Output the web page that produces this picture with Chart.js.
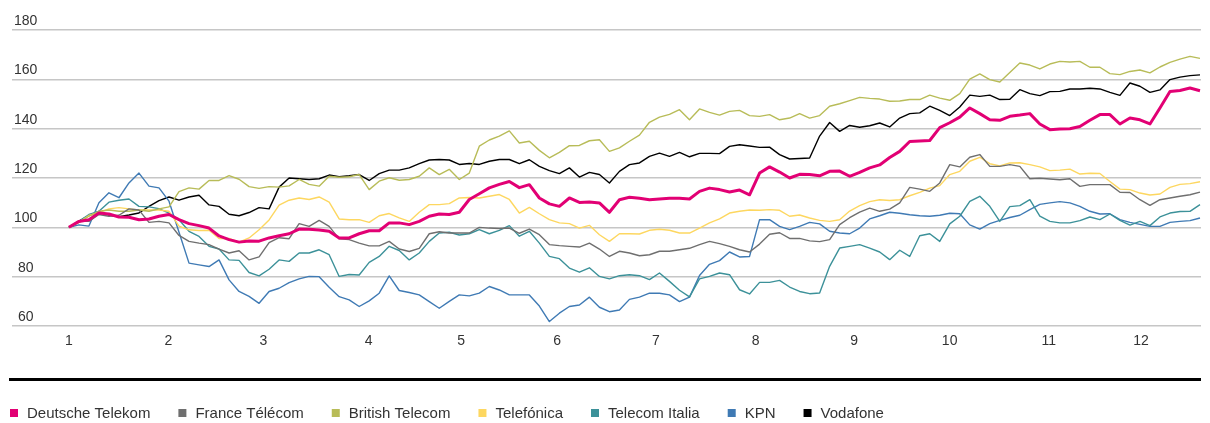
<!DOCTYPE html>
<html><head><meta charset="utf-8">
<script src="https://cdn.jsdelivr.net/npm/chart.js@4.4.1/dist/chart.umd.min.js"></script>
<style>html,body{margin:0;padding:0;background:#fff;}#wrap{width:1210px;height:423px;}</style>
</head><body><div id="wrap"><canvas id="c" width="1210" height="423"></canvas></div>
<script>
// ---- DATA ----
const monthLabels = ['1','2','3','4','5','6','7','8','9','10','11','12'];
const monthTickIndex = [0, 9.94, 19.42, 29.95, 39.19, 48.77, 58.64, 68.61, 78.44, 87.99, 97.89, 107.11];
const yTicks = [60, 80, 100, 120, 140, 160, 180];
const seriesNames = ['Deutsche Telekom','France Télécom','British Telecom','Telefónica','Telecom Italia','KPN','Vodafone'];

const deutscheTelekom = [
100,102.4,103.1,105.8,105.4,104.2,104.1,103.1,103.4,104.5,
105.2,103.1,101.5,100.7,99.7,96.5,95,94,94.5,94.4,
95.7,96.6,97.4,99.3,99.2,98.9,98.4,95.7,95.7,97.4,
98.6,98.6,101.8,101.8,101.1,102.4,104.5,105.4,105.2,106.1,
111.3,113.6,116,117.4,118.6,116.1,117.3,111.9,109.5,108.5,
111.9,110.1,110.3,109.9,106.1,111.2,112.2,111.8,111.2,111.5,
111.8,111.8,111.5,114.6,115.9,115.3,114.3,115.1,113.2,122,
124.5,122.4,120,121.5,121.4,120.9,122.7,122.8,120.7,122.3,
124.1,125.3,128.3,130.8,134.8,135,135.2,140.4,142.4,144.7,
148.4,146.1,143.6,143.4,145,145.5,146.1,141.9,139.6,139.9,
140,140.9,143.4,145.7,145.7,141.9,144.3,143.6,141.9,148.4,
155.1,155.5,156.5,155.4];

const franceTelecom = [
100,102.5,102.4,105.2,104.5,104.9,107.5,107,102,102.4,
101.8,96.7,94.3,93.6,93,91.2,89.6,90.5,86.8,88,
93.8,95.8,95.4,101.5,100.4,102.8,100.4,95.3,95,93.6,
92.5,92.5,94.3,91.2,90.2,91.5,97.4,98.2,97.7,97.7,
97.7,100,99.7,99.5,99.7,97.6,99.3,97,93,92.6,
92.3,92,93.6,91.2,88.2,90.3,89.6,88.5,88.9,90.3,
90.3,90.9,91.5,93,94.3,93.4,92.3,90.9,90,93.2,
97.2,97.8,95.5,95.5,94.5,94.2,95,101.1,103.9,106.2,
107.8,106.5,107.4,109.9,116.2,115.5,114.6,118,125.4,124.5,
128.4,129.5,124.7,124.7,125.4,124.7,119.7,119.9,119.6,119.3,
119.7,116.6,117.3,117.3,117.3,114.2,114.1,111.2,108.9,111.2,
111.9,112.6,113.2,114.3];

const britishTelecom = [
100,102,104.5,106.5,107,106.5,106.5,107,106.5,107.5,
108.3,114.5,116,115.5,119,119,121,119.5,116.5,115.8,
116.5,116.3,116.8,119.4,117.4,116.7,120.7,120.3,120.5,121.4,
115.3,118.7,120.1,119.1,119.4,120.7,124.1,121.4,123.5,119.4,
122,132.9,135.4,137,139.1,134.2,134.9,131.2,128.2,130.4,
133.1,133.2,135.1,135.5,130.8,132.2,134.9,137.4,142.6,144.7,
145.8,147.7,143.6,148,146.6,145.5,147,147.4,145.3,145,
145.7,143.6,144.3,146.1,144.3,145.3,149.1,150.1,151.4,152.7,
152.3,152,151.1,151.2,151.8,151.8,153.6,152.4,151.5,154.2,
160.1,162.2,159.9,158.9,162.8,166.6,165.8,164.2,166.2,167.3,
167,167.3,164.9,164.9,162.3,161.9,163.2,163.8,162.6,165,
166.9,168.2,169.3,168.5];

const telefonica = [
100,102,104.8,106,107.5,108,107.5,107,107,107,
106.5,100.5,99,98.7,98.8,95.5,95.5,94,95.7,99,
103,109,111,111.9,111.3,112.3,110.2,103.4,103.1,103.1,
102,104.7,105.6,103.8,102.4,106.1,109.2,109.2,109.6,111.9,
112.1,111.9,112.6,113.3,111.3,105.8,108.1,105.5,103.1,101.8,
101.5,99.7,100.8,97,94.3,97.4,97.4,97.3,98.8,99.2,
98.8,97.7,97.7,99.7,101.8,103.4,105.8,106.5,107,106.9,
107.2,106.9,104.5,105,103.8,102.8,102.4,103.1,106.6,108.8,
110.4,111.2,110.9,111.2,112.8,114.2,115.9,116.9,121.4,122.7,
126.8,128.4,125.8,124.9,126.1,126.2,125.4,124.5,123,123.2,
123.6,121.6,121.9,121.8,118.6,115.5,115.3,113.9,113.1,113.5,
116.2,117.4,117.7,118.5];

const telecomItalia = [
100,102.4,105.2,106.5,110.2,111,111.5,108.5,108.3,107.6,
105.8,103.1,98.4,96.3,92.3,91.2,86.8,86.6,81.7,80.3,
83,86.8,86.2,89.6,89.6,90.9,88.9,80.1,80.9,80.7,
85.8,88.2,92.3,90.6,86.8,89.6,94.3,97.7,98,96.9,
97.4,99.1,97.4,98.8,100.7,96.4,98.4,93.6,88.2,87.3,
83.5,81.8,83.6,80.1,79.1,80.4,80.8,80.4,78.8,81.5,
78.1,74.5,71.8,79.1,80.1,81.5,80.8,74.7,73,77.7,
77.7,78.5,75.8,74,73.1,73.4,84.2,91.6,92.3,93,
91.6,90,86.9,90.7,88.2,96.6,97.4,94.3,101.4,104.5,
110.5,112.6,108.5,102.4,108.4,108.8,111.2,104.5,102.4,101.8,
101.8,102.7,104.2,103.1,105.4,102.8,100.9,102.4,100.7,104.2,
105.8,106.4,106.5,109.2];

const kpn = [
100,101,100.5,110,114,112,118,122,116.7,116,
110.6,98,85.5,84.8,84.1,86.8,78.7,74,72,69.2,
74,75.3,77.6,79.1,80.1,80,75.7,71.9,70.6,67.9,
70.2,73.3,80.3,74.4,73.6,72.6,69.9,67.2,70,72.6,
72.2,73.3,76,74.6,72.6,72.6,72.6,68.1,61.8,65.2,
67.9,68.5,71.7,67.6,65.8,66.5,70.8,71.7,73.3,73.3,
72.6,69.9,71.7,80.5,85,86.5,90,88,88.2,103.1,
103.1,100.4,99.1,100.4,102,101.4,98.4,97.7,97.4,99.7,
103.4,104.7,106.1,105.7,105.1,104.7,104.5,104.9,105.7,105.5,
101,99.3,101.5,102.8,104,104.9,107.2,109.3,109.9,110.4,
109.9,108.5,106.5,105.4,105.5,103.1,102,101.2,100.4,100.4,
102,102.4,102.7,103.8];

const vodafone = [
100,102.5,104.8,106.5,105,104.3,105,105.8,108.5,110.8,
112.3,111,112.3,113,109.1,108.5,105.3,104.7,106,108,
107.5,116.3,120,119.7,119.4,119.7,121.2,120.5,120.9,121.4,
119,121.8,123.2,123.2,124.1,125.8,127.3,127.5,127.3,125.5,
125.9,125.5,126.8,127.5,127.5,125.8,127.4,124.7,123,121.8,
124.1,120.4,122.3,121.4,118,122.7,125.4,126.1,128.8,130.1,
128.8,130.4,128.6,130,130,129.9,132.8,133.5,133,132.4,
132.5,129.5,127.7,127.9,128.1,137,142.5,138.9,141.3,140.6,
141.2,142.3,140.7,144.3,146.1,146.4,149.1,147.4,145.3,148.8,
153.6,153.1,153.6,151.8,151.9,155.8,154.2,153.4,155,155.1,
156.1,156.1,156.4,156.1,154.7,153.5,158.5,157.2,154.7,155.7,
159.9,160.9,161.5,161.8];

const seriesValues = [deutscheTelekom, franceTelecom, britishTelecom, telefonica, telecomItalia, kpn, vodafone];
const seriesColors = ['#e20074','#6f6f6f','#b8bc58','#fdd760','#3c9199','#3f7ab4','#000000'];
const seriesWidths = [3, 1.4, 1.4, 1.4, 1.4, 1.4, 1.4];

const TEXT = '#333333';
const AXIS_FONT = {family: '"Liberation Sans", Arial, sans-serif', size: 14};

const datasets = seriesNames.map((name, k) => ({
  label: name,
  data: seriesValues[k].map((v, i) => ({x: i, y: v})),
  borderColor: seriesColors[k],
  backgroundColor: seriesColors[k],
  borderWidth: seriesWidths[k],
  pointRadius: 0,
  tension: 0,
  borderJoinStyle: 'round',
  fill: false
}));

const bottomLegend = {
  id: 'bottomLegend',
  afterDraw(chart) {
    const ctx = chart.ctx;
    ctx.save();
    ctx.fillStyle = '#000';
    ctx.fillRect(9, 378, 1192, 3);
    ctx.font = '15px "Liberation Sans", Arial, sans-serif';
    ctx.textBaseline = 'middle';
    ctx.textAlign = 'left';
    let x = 10;
    const y = 413;
    chart.data.datasets.forEach(ds => {
      ctx.fillStyle = ds.borderColor;
      ctx.fillRect(x, y - 4, 8, 8);
      ctx.fillStyle = TEXT;
      ctx.fillText(ds.label, x + 17, y + 1);
      x += 17 + ctx.measureText(ds.label).width + 28;
    });
    ctx.restore();
  }
};

new Chart(document.getElementById('c'), {
  type: 'line',
  data: {datasets},
  options: {
    responsive: false,
    animation: false,
    devicePixelRatio: 1,
    layout: {padding: {top: 30, left: 8, right: 9, bottom: 71}},
    plugins: {legend: {display: false}, tooltip: {enabled: false}},
    scales: {
      x: {
        type: 'linear',
        min: -5.685,
        max: 113.1,
        grid: {display: false, drawTicks: false},
        border: {display: false},
        afterBuildTicks: s => { s.ticks = monthTickIndex.map(v => ({value: v})); },
        afterFit: s => { s.height = 26; },
        ticks: {
          autoSkip: false, maxRotation: 0, padding: 7,
          color: TEXT, font: AXIS_FONT,
          callback: (v, i) => monthLabels[i]
        }
      },
      y: {
        min: 60, max: 180,
        afterBuildTicks: s => { s.ticks = yTicks.map(v => ({value: v})); },
        grid: {color: '#c6c6c6', lineWidth: 1.5, drawTicks: false},
        border: {display: false},
        ticks: {
          mirror: true, padding: 2, crossAlign: 'center', labelOffset: -9,
          color: TEXT, font: AXIS_FONT
        }
      }
    }
  },
  plugins: [bottomLegend]
});
</script></body></html>
